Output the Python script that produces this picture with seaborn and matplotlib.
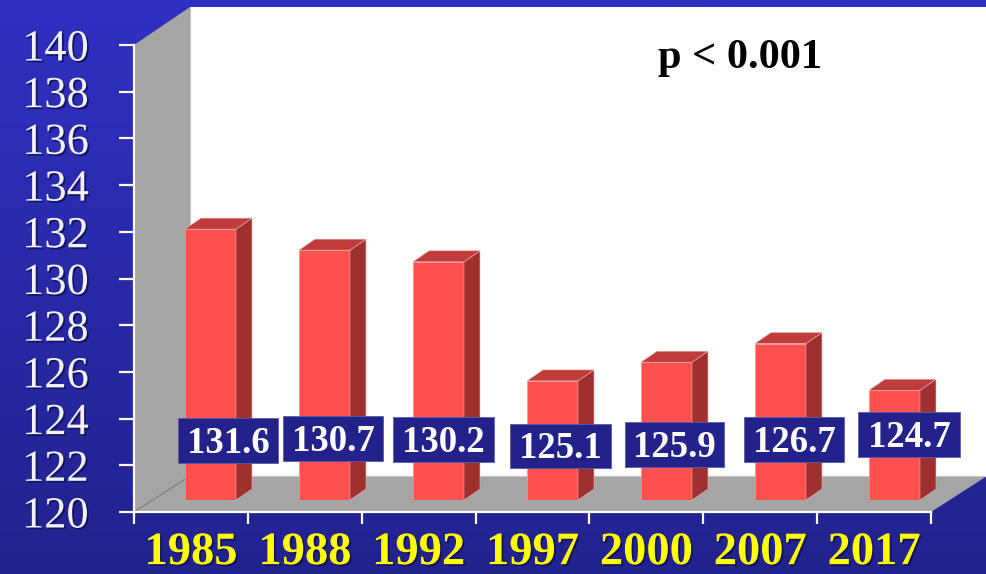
import numpy as np
import pandas as pd
import matplotlib
matplotlib.use("Agg")
import matplotlib.pyplot as plt
import matplotlib.patheffects as pe
from matplotlib.patches import Polygon, Rectangle
from matplotlib.transforms import IdentityTransform
import seaborn as sns

# Data
years = ["1985", "1988", "1992", "1997", "2000", "2007", "2017"]
values = [131.6, 130.7, 130.2, 125.1, 125.9, 126.7, 124.7]
y_ticks = list(range(120, 141, 2))
p_text = "p < 0.001"

# Label boxes in the picture: left, top, right, bottom (pixels)
label_boxes = [
    (178, 418, 278, 463), (283, 416, 383, 461), (393, 417, 494, 462),
    (510, 424, 611, 468), (625, 422, 724, 467), (744, 417, 844, 462),
    (858, 412, 960, 457),
]

W, H = 987, 574
DEPTH_X, DEPTH_Y = 16, 11
shadow = [pe.withSimplePatchShadow(offset=(1.3, -1.3), shadow_rgbFace="#12125e", alpha=0.9)]

sns.set_theme(style="white")
plt.rcParams["font.family"] = ["Liberation Serif", "DejaVu Serif"]

fig = plt.figure(figsize=(W / 100, H / 100), dpi=100)

# Background, in picture pixels
bg = fig.add_axes([0, 0, 1, 1], zorder=0)
bg.set_xlim(0, W)
bg.set_ylim(H, 0)
bg.axis("off")
grad = np.linspace(0, 1, 256)[:, None, None] * np.array([[-14, -14, -52]]) + np.array([[48, 48, 194]])
bg.imshow(grad / 255, extent=(0, W, H, 0), aspect="auto", zorder=0)
bg.set_xlim(0, W)
bg.set_ylim(H, 0)
grey = "#a5a5a5"
bg.add_patch(Rectangle((190, 7), W - 190, 470, fc="white", ec="none", zorder=1))
bg.add_patch(Polygon([(134, 45), (190, 7), (190, 476), (134, 512)], fc=grey, ec="none", zorder=2))
bg.add_patch(Polygon([(134, 512), (190, 476), (W, 476), (931, 512)], fc=grey, ec="none", zorder=2))
bg.plot([134, 190], [512, 476], color="#808080", lw=0.8, zorder=3)
bg.plot([190, W], [476, 476], color="#c4c4c4", lw=0.8, zorder=3)
bg.plot([190, 190], [7, 476], color="#c4c4c4", lw=0.8, zorder=3)

# Main axes: ticks and labels
ax = fig.add_axes([134 / W, (H - 512) / H, 797 / W, 467 / H], zorder=1)
ax.patch.set_alpha(0)
ax.set_xlim(0, len(years))
ax.set_ylim(120, 140)
for side in ["top", "right"]:
    ax.spines[side].set_visible(False)
for side in ["left", "bottom"]:
    ax.spines[side].set_color("white")
    ax.spines[side].set_linewidth(1.6)
ax.set_yticks(y_ticks)
ax.set_yticklabels([str(t) for t in y_ticks], fontsize=32, color="#f2f2f8", path_effects=shadow)
ax.tick_params(axis="y", left=True, direction="out", length=11, width=1.6, color="white", pad=21.5)
ax.set_xticks(range(len(years) + 1))
ax.set_xticklabels([])
ax.tick_params(axis="x", which="major", bottom=True, direction="out", length=8.5, width=1.6, color="white")
ax.set_xticks(np.arange(len(years)) + 0.5, minor=True)
ax.set_xticklabels(years, minor=True, fontsize=33.5, fontweight="bold", color="#ffff00", path_effects=shadow)
ax.tick_params(axis="x", which="minor", bottom=False, length=0, pad=14.5)

# Bars sit on the floor, 12 px above the front edge, on the same value scale
ax_bars = fig.add_axes([153.5 / W, (H - 500) / H, 798 / W, 467 / H], zorder=2)
ax_bars.patch.set_alpha(0)
df = pd.DataFrame({"year": years, "value": values})
sns.barplot(data=df, x="year", y="value", color="#ff5050", saturation=1, width=0.447,
            edgecolor="#ff9090", linewidth=0.5, errorbar=None, ax=ax_bars)
ax_bars.set_xlim(-0.5, len(years) - 0.5)
ax_bars.set_ylim(120, 140)
ax_bars.axis("off")

# 3D side and top of each bar, taken from the bar drawn by seaborn
for bar in list(ax_bars.patches):
    x0 = bar.get_x()
    x1 = x0 + bar.get_width()
    top = bar.get_height()
    (px0, py0), (px1, py1) = ax_bars.transData.transform([(x0, 120), (x1, top)])
    dx, dy = DEPTH_X, DEPTH_Y
    side_face = [(px1, py0), (px1 + dx, py0 + dy), (px1 + dx, py1 + dy), (px1, py1)]
    top_face = [(px0, py1), (px0 + dx, py1 + dy), (px1 + dx, py1 + dy), (px1, py1)]
    for pts, col in [(side_face, "#a03030"), (top_face, "#c03c3c")]:
        fig_patch = Polygon(pts, closed=True, fc=col, ec="#e8b0b0", lw=0.4,
                            transform=IdentityTransform(), clip_on=False)
        ax_bars.add_artist(fig_patch)

# Value boxes and the p value on top
over = fig.add_axes([0, 0, 1, 1], zorder=3)
over.patch.set_alpha(0)
over.set_xlim(0, W)
over.set_ylim(H, 0)
over.axis("off")
for (l, t, r, b), v in zip(label_boxes, values):
    over.add_patch(Rectangle((l, t), r - l, b - t, fc="#22228a", ec="#5a5ab0", lw=0.6))
    over.text((l + r) / 2, (t + b) / 2 - 1, f"{v:.1f}", color="white", fontsize=26.5, fontweight="bold",
              ha="center", va="center_baseline")
over.text(740, 58, p_text, color="black", fontsize=30.5, fontweight="bold", ha="center", va="center")

fig.savefig("out.png", dpi=100)
